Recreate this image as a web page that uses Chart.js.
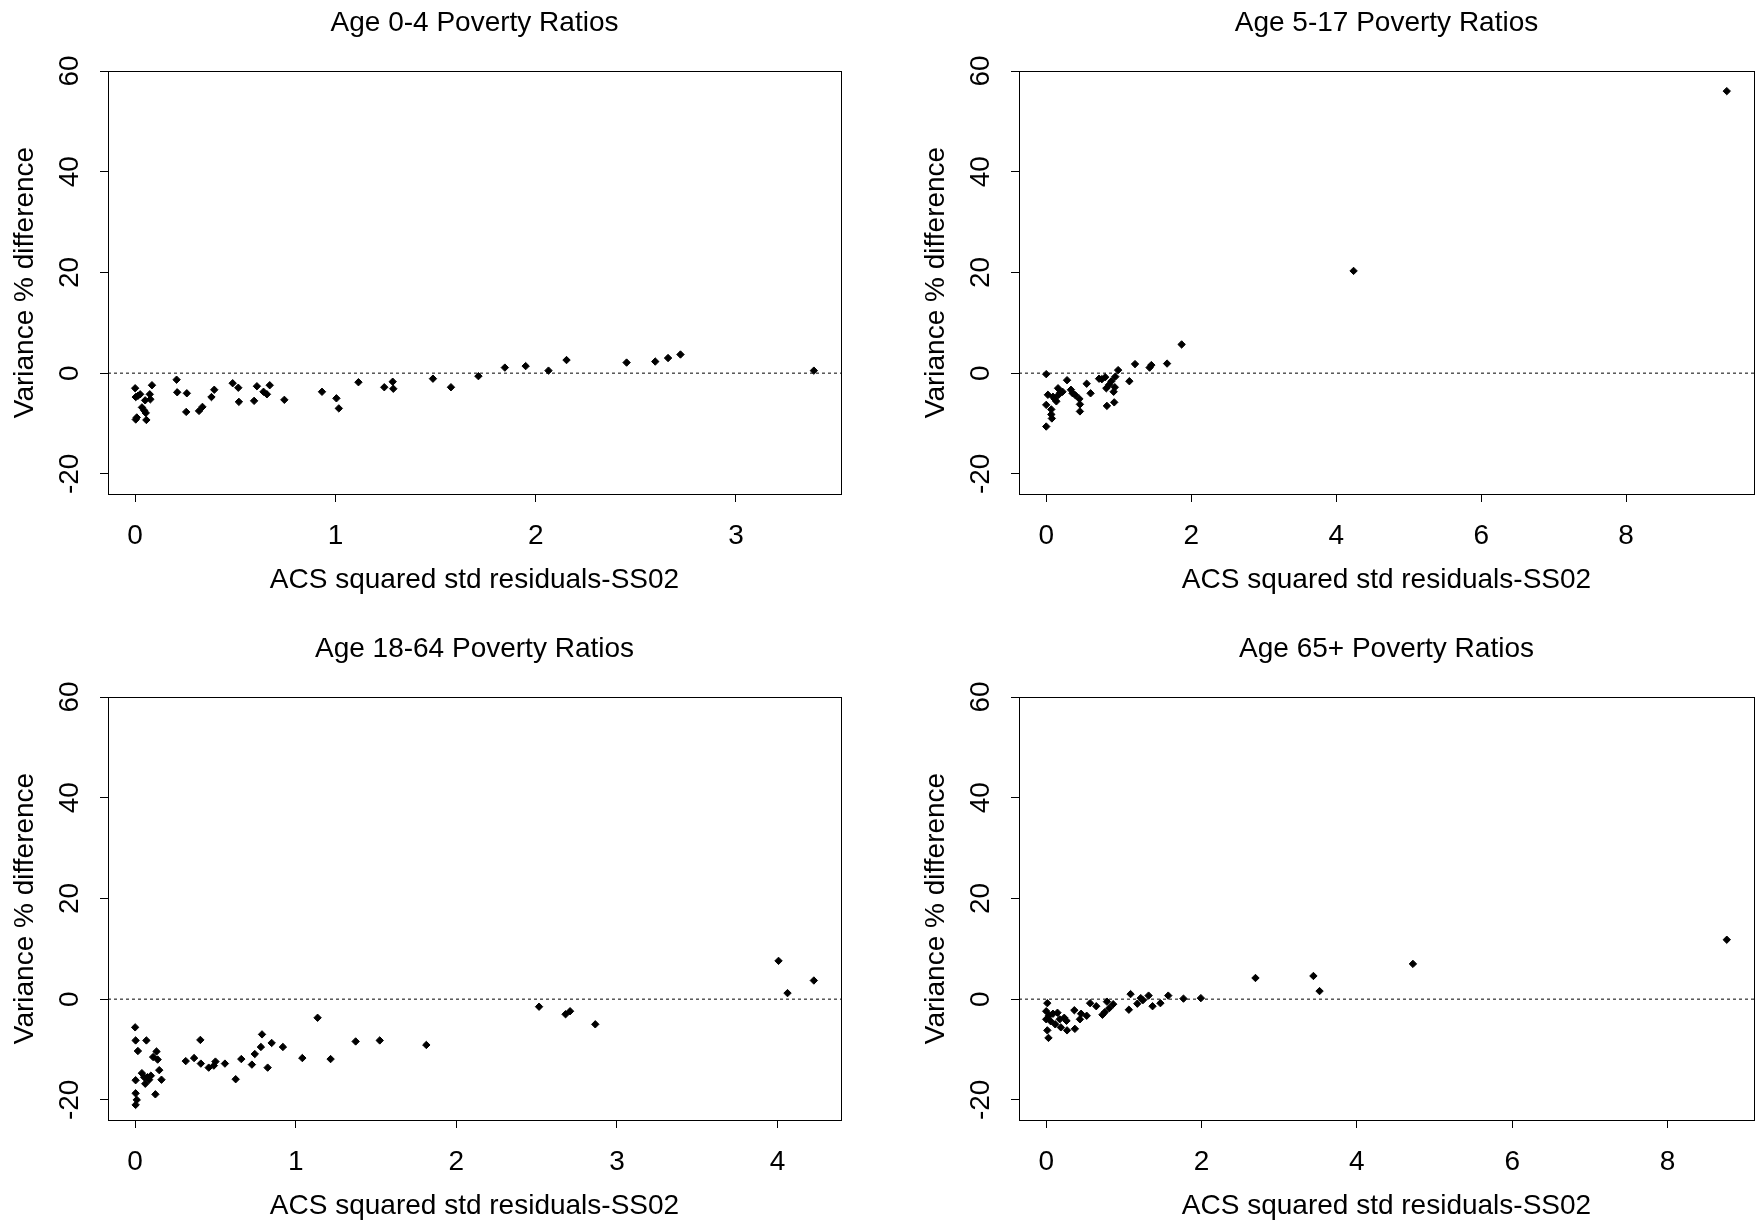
<!DOCTYPE html>
<html>
<head>
<meta charset="utf-8">
<title>Poverty Ratios</title>
<script src="https://cdn.jsdelivr.net/npm/chart.js@4.4.1/dist/chart.umd.min.js"></script>
<style>
  html, body { margin: 0; padding: 0; background: #fff; width: 1760px; height: 1223px; overflow: hidden; }
  canvas { position: absolute; }
</style>
</head>
<body>
<canvas id="c1" width="880" height="610" style="left:0px;top:0px"></canvas>
<canvas id="c2" width="849" height="610" style="left:911px;top:0px"></canvas>
<canvas id="c3" width="880" height="610" style="left:0px;top:626px"></canvas>
<canvas id="c4" width="849" height="610" style="left:911px;top:626px"></canvas>
<script>
// squared std residuals (x) vs variance % difference (y), one pair per age group
var age04X = [0, 0.003, 0.014, 0.025, 0.003, 0.008, 0.034, 0.045, 0.05, 0.053, 0.056, 0.073, 0.076, 0.084,
  0.207, 0.21, 0.258, 0.255, 0.319, 0.336, 0.381, 0.395, 0.487, 0.515, 0.518, 0.594, 0.608, 0.641, 0.658,
  0.672, 0.745, 0.933, 1.005, 1.017, 1.115, 1.244, 1.286, 1.289, 1.487, 1.577, 1.714, 1.846, 1.95, 2.064,
  2.154, 2.454, 2.597, 2.661, 2.723, 3.389];
var age04Y = [-3.0, -4.75, -4.5, -4.2, -9.2, -8.8, -6.8, -7.4, -5.4, -7.9, -9.3, -4.2, -5.2, -2.4,
  -1.3, -3.8, -4.0, -7.7, -7.5, -6.7, -4.75, -3.3, -2.0, -2.9, -5.7, -5.5, -2.6, -3.7, -4.2,
  -2.4, -5.3, -3.7, -5.0, -7.0, -1.8, -2.8, -1.7, -3.1, -1.1, -2.8, -0.6, 1.1, 1.4, 0.5,
  2.6, 2.1, 2.3, 3.0, 3.7, 0.5];

var age517X = [0, 0, 0, 0.023, 0.07, 0.07, 0.078, 0.093, 0.116, 0.14, 0.163, 0.171, 0.194, 0.225, 0.287,
  0.341, 0.364, 0.403, 0.457, 0.465, 0.465, 0.558, 0.612, 0.729, 0.767, 0.814, 0.829, 0.837, 0.868, 0.899,
  0.93, 0.938, 0.946, 0.953, 0.992, 1.147, 1.225, 1.426, 1.45, 1.667, 1.868, 4.24, 9.388];
var age517Y = [-0.2, -10.6, -6.3, -4.3, -7.2, -8.2, -9.0, -4.7, -5.1, -5.6, -3.0, -4.3, -3.8, -3.7, -1.4,
  -3.3, -4.0, -4.4, -5.1, -6.2, -7.6, -2.1, -4.0, -1.1, -1.2, -0.8, -3.0, -6.5, -2.3, -1.6,
  -3.7, -5.8, -2.8, -0.7, 0.6, -1.6, 1.8, 1.1, 1.6, 1.9, 5.7, 20.3, 56.0];

var age1864X = [0, 0.003, 0.017, 0.003, 0.003, 0.01, 0.003, 0.042, 0.056, 0.063, 0.07, 0.077, 0.087, 0.098,
  0.112, 0.126, 0.133, 0.14, 0.15, 0.164, 0.315, 0.367, 0.406, 0.409, 0.458, 0.49, 0.5, 0.559, 0.626,
  0.661, 0.727, 0.745, 0.783, 0.79, 0.825, 0.85, 0.92, 1.041, 1.136, 1.217, 1.373, 1.523, 1.813, 2.515,
  2.68, 2.708, 2.865, 4.006, 4.062, 4.226];
var age1864Y = [-5.6, -8.2, -10.3, -16.1, -18.7, -20.0, -21.0, -14.7, -15.5, -16.8, -8.2, -15.5, -16.0, -15.2,
  -11.5, -18.9, -10.4, -12.0, -14.1, -16.0, -12.3, -11.7, -8.1, -12.8, -13.6, -13.2, -12.4, -12.8, -15.9,
  -11.9, -13.0, -10.9, -9.5, -7.0, -13.6, -8.7, -9.5, -11.7, -3.7, -11.9, -8.4, -8.2, -9.1, -1.5,
  -3.0, -2.4, -5.0, 7.6, 1.2, 3.7];

var age65X = [0.014, 0, 0, 0.014, 0.029, 0.036, 0.058, 0.087, 0.116, 0.145, 0.174, 0.188, 0.232, 0.261,
  0.268, 0.362, 0.369, 0.434, 0.449, 0.521, 0.565, 0.644, 0.724, 0.753, 0.782, 0.811, 0.862, 1.064,
  1.086, 1.173, 1.217, 1.245, 1.318, 1.369, 1.47, 1.571, 1.767, 1.991, 2.694, 3.44, 3.519, 4.721, 8.762];
var age65Y = [-0.8, -2.4, -4.0, -6.2, -7.7, -3.3, -4.4, -2.9, -5.0, -2.7, -4.0, -5.6, -3.7, -4.3,
  -6.2, -2.2, -5.9, -4.0, -2.9, -3.3, -0.8, -1.4, -3.1, -2.6, -0.5, -1.8, -1.0, -2.1,
  1.0, -0.9, 0.2, -0.2, 0.7, -1.4, -0.8, 0.7, 0.1, 0.2, 4.2, 4.6, 1.6, 7.0, 11.8];

// axis ticks and the reference level drawn as a dotted line
var yTicks = [-20, 0, 20, 40, 60];
var xTicksShort = [0, 1, 2, 3];
var xTicksMid = [0, 1, 2, 3, 4];
var xTicksLong = [0, 2, 4, 6, 8];
var refLevel = 0;

var textFont = { family: "'Liberation Sans', Arial, Helvetica, sans-serif", size: 28, weight: 'normal', lineHeight: 1.2 };

// box around the plotting region
var framePlugin = {
  id: 'frame',
  afterDraw: function (chart) {
    var a = chart.chartArea;
    var ctx = chart.ctx;
    var l = Math.round(a.left) + 0.5, t = Math.round(a.top) + 0.5;
    var r = Math.round(a.right) + 0.5, b = Math.round(a.bottom) + 0.5;
    ctx.save();
    ctx.strokeStyle = '#000';
    ctx.lineWidth = 1;
    ctx.strokeRect(l, t, r - l, b - t);
    ctx.restore();
  }
};

function makePanel(id, title, xs, ys, xTicks, rightPad) {
  var lo = Math.min.apply(null, xs), hi = Math.max.apply(null, xs);
  var ext = (hi - lo) * 0.04;
  var xMin = lo - ext, xMax = hi + ext;

  var pts = xs.map(function (x, i) { return { x: x, y: ys[i] }; });

  new Chart(document.getElementById(id).getContext('2d'), {
    type: 'scatter',
    data: {
      datasets: [
        {
          type: 'line',
          data: [{ x: xMin, y: refLevel }, { x: xMax, y: refLevel }],
          borderColor: '#000',
          borderWidth: 1,
          borderDash: [3, 3],
          pointRadius: 0,
          fill: false
        },
        {
          data: pts,
          pointStyle: 'rectRot',
          pointRadius: 3.7,
          backgroundColor: '#000',
          borderColor: '#000',
          borderWidth: 1
        }
      ]
    },
    options: {
      responsive: false,
      animation: false,
      events: [],
      layout: { padding: { left: 0, right: rightPad, top: 0, bottom: 11 } },
      plugins: {
        legend: { display: false },
        tooltip: { enabled: false },
        title: {
          display: true,
          text: title,
          fullSize: false,
          color: '#000',
          font: textFont,
          padding: { top: 6.5, bottom: 30.9 }
        }
      },
      scales: {
        x: {
          type: 'linear',
          min: xMin,
          max: xMax,
          afterBuildTicks: function (s) { s.ticks = xTicks.map(function (v) { return { value: v }; }); },
          afterFit: function (s) { s.height = 105; },
          border: { display: false },
          grid: { drawOnChartArea: false, drawTicks: true, tickLength: 8, color: '#000', lineWidth: 1 },
          ticks: {
            autoSkip: false, maxRotation: 0, padding: 17, color: '#000', font: textFont,
            callback: function (v) { return String(v); }
          },
          title: {
            display: true, text: 'ACS squared std residuals-SS02', color: '#000', font: textFont,
            padding: { top: 0, bottom: 1.7 }
          }
        },
        y: {
          type: 'linear',
          min: -24,
          max: 60,
          afterBuildTicks: function (s) { s.ticks = yTicks.map(function (v) { return { value: v }; }); },
          afterFit: function (s) { s.width = 108; },
          border: { display: false },
          grid: { drawOnChartArea: false, drawTicks: true, tickLength: 8, color: '#000', lineWidth: 1 },
          ticks: {
            autoSkip: false, minRotation: 90, maxRotation: 90, crossAlign: 'center', padding: 9,
            color: '#000', font: textFont,
            callback: function (v) { return String(v); }
          },
          title: {
            display: true, text: 'Variance % difference', color: '#000', font: textFont,
            padding: { top: 8.2, bottom: 0 }
          }
        }
      }
    },
    plugins: [framePlugin]
  });
}

makePanel('c1', 'Age 0-4 Poverty Ratios', age04X, age04Y, xTicksShort, 39);
makePanel('c2', 'Age 5-17 Poverty Ratios', age517X, age517Y, xTicksLong, 6);
makePanel('c3', 'Age 18-64 Poverty Ratios', age1864X, age1864Y, xTicksMid, 39);
makePanel('c4', 'Age 65+ Poverty Ratios', age65X, age65Y, xTicksLong, 6);
</script>
</body>
</html>
